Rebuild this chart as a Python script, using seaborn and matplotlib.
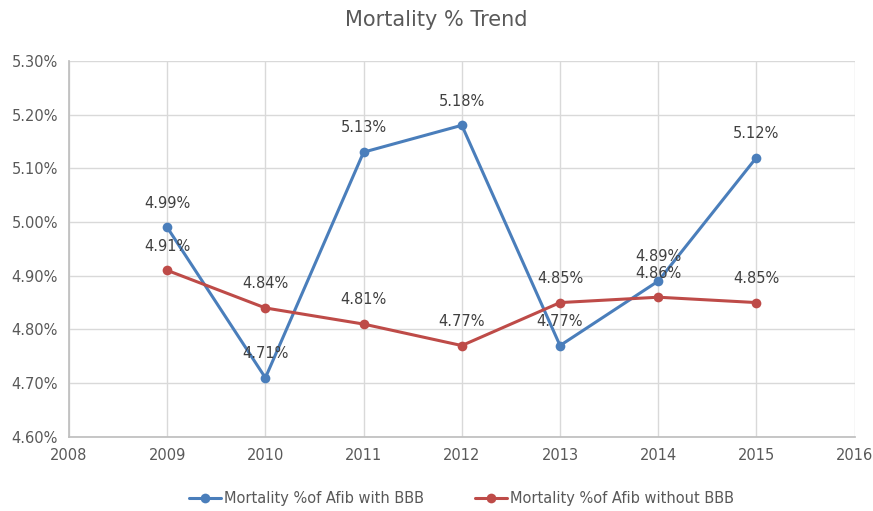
import matplotlib
matplotlib.use("Agg")
import matplotlib.pyplot as plt
import seaborn as sns
import pandas as pd
from matplotlib.ticker import FuncFormatter, MultipleLocator

years = [2009, 2010, 2011, 2012, 2013, 2014, 2015]
with_bbb = [4.99, 4.71, 5.13, 5.18, 4.77, 4.89, 5.12]
without_bbb = [4.91, 4.84, 4.81, 4.77, 4.85, 4.86, 4.85]
series_names = ["Mortality %of Afib with BBB", "Mortality %of Afib without BBB"]
colors = ["#4A7EBB", "#BE4B48"]

df = pd.concat([
    pd.DataFrame({"year": years, "value": with_bbb, "series": series_names[0]}),
    pd.DataFrame({"year": years, "value": without_bbb, "series": series_names[1]}),
])

sns.set_theme(style="whitegrid")
plt.rcParams['font.family'] = ['DejaVu Sans']
text_color = "#595959"

fig = plt.figure(figsize=(8.73, 5.11), dpi=100)
ax = fig.add_axes([0.079, 0.145, 0.900, 0.736])

sns.lineplot(data=df, x="year", y="value", hue="series", palette=colors,
             marker="o", markersize=7, markeredgewidth=0, linewidth=2.2, ax=ax)

for vals, name in [(with_bbb, series_names[0]), (without_bbb, series_names[1])]:
    for x, v in zip(years, vals):
        ax.annotate(f"{v:.2f}%", (x, v), xytext=(0, 12), textcoords="offset points",
                    ha="center", va="bottom", fontsize=10.5, color="#404040")

ax.set_xlim(2008, 2016)
ax.set_ylim(4.60, 5.30)
ax.xaxis.set_major_locator(MultipleLocator(1))
ax.yaxis.set_major_locator(MultipleLocator(0.10))
ax.yaxis.set_major_formatter(FuncFormatter(lambda v, p: f"{v:.2f}%"))
ax.xaxis.set_major_formatter(FuncFormatter(lambda v, p: f"{int(round(v))}"))
ax.tick_params(axis="both", labelsize=10.5, colors=text_color, length=0, pad=8)
ax.grid(True, color="#D9D9D9", linewidth=1)
ax.set_facecolor("white")
for s in ax.spines.values():
    s.set_visible(False)
ax.spines["left"].set_visible(True)
ax.spines["bottom"].set_visible(True)
ax.spines["left"].set_color("#BFBFBF")
ax.spines["bottom"].set_color("#BFBFBF")
ax.set_xlabel("")
ax.set_ylabel("")

fig.suptitle("Mortality % Trend", y=0.98, fontsize=15, color=text_color)

handles, labels = ax.get_legend_handles_labels()
ax.legend(handles, labels, loc="center", bbox_to_anchor=(0.5, -0.165), ncol=2,
          frameon=False, fontsize=10.5, labelcolor=text_color, handlelength=2.2,
          columnspacing=3.5, handletextpad=0.2)

fig.savefig("out.png", dpi=100)
